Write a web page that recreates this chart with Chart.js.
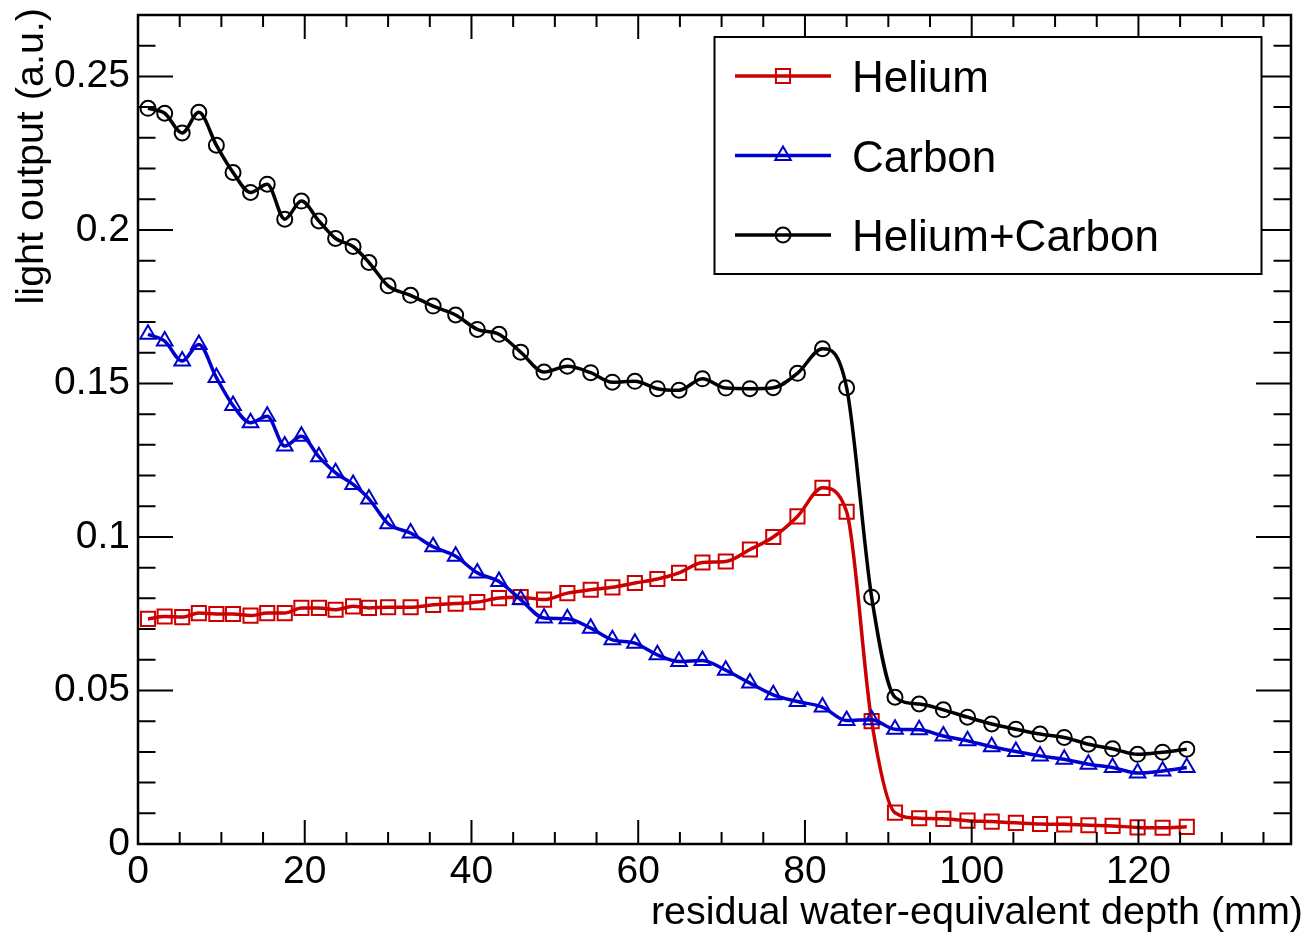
<!DOCTYPE html>
<html lang="en">
  <head>
    <meta charset="UTF-8" />
    <title>Light output vs residual depth</title>
    <script src="https://cdn.jsdelivr.net/npm/chart.js@4.4.0/dist/chart.umd.min.js"></script>
    <style>
      html, body { margin: 0; padding: 0; background: #fff; }
      #wrap { width: 1310px; height: 936px; position: relative; }
    </style>
  </head>
  <body>
    <div id="wrap"><canvas id="lightChart"></canvas></div>
    <script>
      // residual water-equivalent depth (mm)
      var depth = [1.2, 3.2, 5.3, 7.3, 9.4, 11.4, 13.5, 15.5, 17.6, 19.6,
        21.7, 23.7, 25.8, 27.7, 30.0, 32.7, 35.4, 38.1, 40.7, 43.3,
        45.9, 48.7, 51.5, 54.3, 56.9, 59.6, 62.3, 64.9, 67.7, 70.5,
        73.4, 76.2, 79.1, 82.1, 85.0, 88.0, 90.8, 93.7, 96.6, 99.5,
        102.4, 105.3, 108.2, 111.1, 114.0, 116.9, 119.9, 122.9, 125.8];

      var helium = [0.0733, 0.0741, 0.0739, 0.0752, 0.0749, 0.0749, 0.0744, 0.0752, 0.0752, 0.0769,
        0.0769, 0.0763, 0.0774, 0.0769, 0.0771, 0.0771, 0.0779, 0.0783, 0.0788, 0.0801,
        0.0804, 0.0796, 0.0817, 0.0828, 0.0836, 0.0850, 0.0863, 0.0883, 0.0917, 0.0920,
        0.0959, 0.1000, 0.1067, 0.1160, 0.1082, 0.0400, 0.0102, 0.0084, 0.0082, 0.0076,
        0.0073, 0.0069, 0.0065, 0.0064, 0.0061, 0.0059, 0.0054, 0.0053, 0.0056];

      var carbon = [0.1660, 0.1638, 0.1573, 0.1627, 0.1519, 0.1428, 0.1372, 0.1393, 0.1296, 0.1328,
        0.1261, 0.1209, 0.1171, 0.1124, 0.1043, 0.1013, 0.0968, 0.0937, 0.0883, 0.0855,
        0.0796, 0.0736, 0.0734, 0.0703, 0.0665, 0.0654, 0.0616, 0.0594, 0.0598, 0.0566,
        0.0524, 0.0486, 0.0464, 0.0446, 0.0402, 0.0405, 0.0374, 0.0372, 0.0352, 0.0336,
        0.0317, 0.0301, 0.0287, 0.0276, 0.0260, 0.0249, 0.0231, 0.0238, 0.0249];

      var heliumCarbon = [0.2396, 0.2380, 0.2316, 0.2383, 0.2276, 0.2187, 0.2122, 0.2149, 0.2035, 0.2094,
        0.2029, 0.1972, 0.1946, 0.1894, 0.1818, 0.1787, 0.1752, 0.1723, 0.1676, 0.1660,
        0.1602, 0.1537, 0.1556, 0.1535, 0.1504, 0.1507, 0.1483, 0.1478, 0.1515, 0.1485,
        0.1483, 0.1486, 0.1533, 0.1613, 0.1486, 0.0804, 0.0478, 0.0456, 0.0437, 0.0413,
        0.0391, 0.0374, 0.0358, 0.0347, 0.0325, 0.0310, 0.0292, 0.0299, 0.0309];

      var seriesNames = ["Helium", "Carbon", "Helium+Carbon"];
      var xTitle = "residual water-equivalent depth (mm)";
      var yTitle = "light output (a.u.)";

      var FONT = "'Liberation Sans', Arial, Helvetica, sans-serif";

      function toPoints(ys) {
        return depth.map(function (x, i) { return { x: x, y: ys[i] }; });
      }

      function series(label, ys, color, style, radius, order) {
        return {
          label: label,
          data: toPoints(ys),
          borderColor: color,
          borderWidth: 3.5,
          pointStyle: style,
          pointRadius: radius,
          pointBorderWidth: 2,
          pointBorderColor: color,
          pointBackgroundColor: "rgba(0,0,0,0)",
          cubicInterpolationMode: "monotone",
          order: order
        };
      }

      // ROOT-like frame: box, inward ticks on all sides, axis titles
      var frameTicks = {
        id: "frameTicks",
        afterDraw: function (chart) {
          var ctx = chart.ctx, a = chart.chartArea;
          var xs = chart.scales.x, ys = chart.scales.y;
          ctx.save();
          ctx.strokeStyle = "#000";
          ctx.lineWidth = 2;
          ctx.beginPath();
          for (var i = 0; i * 5 <= xs.max + 1e-9; i++) {
            var px = xs.getPixelForValue(i * 5);
            var len = i % 4 === 0 ? 24 : 12;
            ctx.moveTo(px, a.bottom); ctx.lineTo(px, a.bottom - len);
            ctx.moveTo(px, a.top); ctx.lineTo(px, a.top + len);
          }
          for (var j = 0; j * 0.01 <= ys.max + 1e-9; j++) {
            var py = ys.getPixelForValue(j * 0.01);
            var l2 = j % 5 === 0 ? 35 : 17.5;
            ctx.moveTo(a.left, py); ctx.lineTo(a.left + l2, py);
            ctx.moveTo(a.right, py); ctx.lineTo(a.right - l2, py);
          }
          ctx.stroke();
          ctx.lineWidth = 2.5;
          ctx.strokeRect(a.left, a.top, a.right - a.left, a.bottom - a.top);

          ctx.fillStyle = "#000";
          ctx.font = "39.5px " + FONT;
          ctx.textAlign = "right";
          ctx.textBaseline = "alphabetic";
          ctx.fillText(xTitle, 1303, 924);
          ctx.translate(43, 8);
          ctx.rotate(-Math.PI / 2);
          ctx.fillText(yTitle, 0, 0);
          ctx.restore();
        }
      };

      var boxLegend = {
        id: "boxLegend",
        afterDraw: function (chart) {
          var ctx = chart.ctx;
          ctx.save();
          ctx.fillStyle = "#fff";
          ctx.fillRect(714.5, 37, 547, 237);
          ctx.strokeStyle = "#000";
          ctx.lineWidth = 2;
          ctx.strokeRect(714.5, 37, 547, 237);
          chart.data.datasets.forEach(function (ds, i) {
            var y = 76 + i * 79.5;
            ctx.strokeStyle = ds.borderColor;
            ctx.lineWidth = 3.5;
            ctx.beginPath();
            ctx.moveTo(735, y); ctx.lineTo(831, y);
            ctx.stroke();
            ctx.lineWidth = ds.pointBorderWidth;
            ctx.fillStyle = "rgba(0,0,0,0)";
            Chart.helpers.drawPoint(ctx, {
              pointStyle: ds.pointStyle, radius: ds.pointRadius,
              borderWidth: ds.pointBorderWidth, rotation: 0
            }, 783, y);
            ctx.fillStyle = "#000";
            ctx.font = "44px " + FONT;
            ctx.textAlign = "left";
            ctx.textBaseline = "alphabetic";
            ctx.fillText(ds.label, 852, y + 16);
          });
          ctx.restore();
        }
      };

      new Chart(document.getElementById("lightChart"), {
        type: "line",
        data: {
          datasets: [
            series(seriesNames[0], helium, "#cc0000", "rect", 10, 2),
            series(seriesNames[1], carbon, "#0000cc", "triangle", 9, 1),
            series(seriesNames[2], heliumCarbon, "#000000", "circle", 7.5, 0)
          ]
        },
        options: {
          responsive: true,
          maintainAspectRatio: false,
          animation: false,
          layout: { padding: { left: 0, top: 15, right: 19, bottom: 0 } },
          plugins: { legend: { display: false }, tooltip: { enabled: false } },
          scales: {
            x: {
              type: "linear",
              min: 0,
              max: 138.3,
              grid: { display: false, drawTicks: false },
              border: { display: false },
              ticks: {
                stepSize: 20,
                includeBounds: false,
                autoSkip: false,
                maxRotation: 0,
                padding: 5,
                color: "#000",
                font: { family: FONT, size: 39 }
              },
              afterFit: function (s) {
                s.height = 92;
                s.paddingLeft = 0;
                s.paddingRight = 0;
              }
            },
            y: {
              min: 0,
              max: 0.27,
              grid: { display: false, drawTicks: false },
              border: { display: false },
              ticks: {
                stepSize: 0.05,
                includeBounds: false,
                padding: 8,
                color: "#000",
                font: { family: FONT, size: 39 },
                callback: function (v) { return String(+v.toFixed(2)); }
              },
              afterFit: function (s) {
                s.width = 138;
                s.paddingTop = 0;
                s.paddingBottom = 0;
              }
            }
          }
        },
        plugins: [frameTicks, boxLegend]
      });
    </script>
  </body>
</html>
